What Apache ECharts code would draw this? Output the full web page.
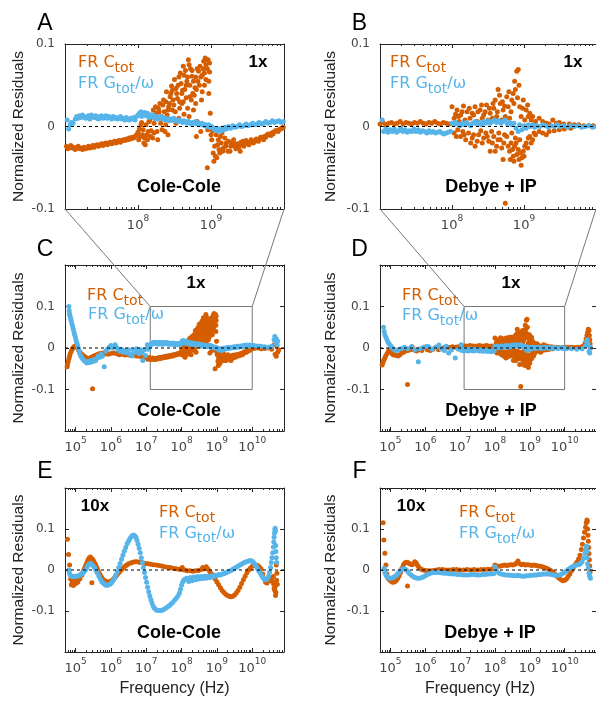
<!DOCTYPE html>
<html><head><meta charset="utf-8">
<script src="https://cdn.jsdelivr.net/npm/echarts@6/dist/echarts.min.js"></script>
<style>html,body{margin:0;padding:0;background:#fff}#c{width:596px;height:702px}</style>
</head><body><div id="c"></div>
<script>
// Each point: [log10(frequency in Hz), normalized residual]
const coleCole1x_Ctot = [
[4.76,-0.045],[4.77,-0.04],[4.79,-0.033],[4.81,-0.026],[4.83,-0.019],[4.85,-0.013],[4.88,-0.007],[4.91,-0.002],[4.94,0.002],[4.97,0.004],[5.0,0.005],[5.03,0.003],[5.06,-0.001],[5.09,-0.006],[5.12,-0.01],[5.16,-0.014],[5.2,-0.017],[5.24,-0.02],[5.28,-0.022],[5.32,-0.024],[5.36,-0.026],[5.4,-0.025],[5.44,-0.022],[5.48,-0.098],[5.5,-0.02],[5.55,-0.018],[5.6,-0.016],[5.66,-0.014],[5.72,-0.013],[5.78,-0.012],[5.85,-0.014],[5.92,-0.015],[6.0,-0.013],[6.08,-0.012],[6.16,-0.014],[6.24,-0.016],[6.32,-0.015],[6.4,-0.017],[6.48,-0.016],[6.56,-0.018],[6.64,-0.018],[6.72,-0.019],[6.8,-0.02],[6.88,-0.021],[6.96,-0.022],
[7.02,-0.024],[7.04,-0.027],[7.06,-0.025],[7.08,-0.023],[7.1,-0.026],[7.12,-0.025],[7.14,-0.028],[7.16,-0.026],[7.18,-0.024],[7.2,-0.027],[7.22,-0.026],[7.24,-0.028],[7.26,-0.025],[7.28,-0.027],[7.3,-0.026],[7.32,-0.024],[7.34,-0.026],[7.36,-0.025],[7.38,-0.023],[7.4,-0.025],[7.42,-0.023],[7.44,-0.022],[7.46,-0.024],[7.48,-0.022],[7.5,-0.021],[7.52,-0.023],[7.54,-0.021],[7.56,-0.02],[7.58,-0.022],[7.6,-0.02],[7.62,-0.019],[7.64,-0.021],[7.66,-0.019],[7.68,-0.018],[7.7,-0.02],[7.72,-0.018],[7.74,-0.017],[7.76,-0.019],[7.78,-0.017],[7.8,-0.016],[7.82,-0.017],[7.84,-0.015],[7.86,-0.016],[7.88,-0.014],[7.9,-0.015],[7.92,-0.013],[7.94,-0.014],[7.96,-0.012],[7.98,-0.01],
[8.0,-0.007],[8.01,-0.016],[8.02,-0.003],[8.03,-0.012],[8.04,0.002],[8.05,0.005],[8.06,-0.01],[8.07,-0.004],[8.08,-0.02],[8.09,-0.014],[8.1,-0.022],[8.11,0.002],[8.12,-0.01],[8.13,-0.016],[8.14,-0.006],[8.15,0.006],[8.16,0.008],[8.17,-0.012],[8.18,-0.005],[8.19,0.014],[8.2,-0.014],[8.21,0.02],[8.22,-0.008],[8.23,0.01],[8.25,0.016],[8.26,-0.006],[8.27,-0.016],[8.28,0.022],[8.3,0.028],[8.31,0.004],[8.32,0.012],[8.33,-0.004],[8.35,0.032],[8.36,0.018],[8.37,-0.006],[8.38,0.002],[8.39,0.042],[8.4,0.014],[8.41,-0.01],[8.42,0.024],[8.44,0.036],[8.45,0.008],[8.46,0.049],[8.47,0.02],[8.48,0.032],[8.5,0.057],[8.51,0.018],[8.52,0.004],[8.53,0.04],[8.55,0.05],[8.56,0.01],[8.57,0.03],[8.58,0.065],[8.6,0.028],[8.61,0.044],[8.62,0.073],[8.63,0.015],[8.64,0.045],[8.66,0.035],[8.67,0.055],[8.68,0.022],[8.69,0.081],[8.7,0.012],[8.71,0.036],[8.72,0.07],[8.74,0.061],[8.75,0.04],[8.76,0.02],[8.78,0.047],[8.79,0.028],[8.8,-0.012],[8.81,0.006],[8.82,0.055],[8.83,0.067],[8.85,0.073],[8.86,-0.006],[8.87,0.032],[8.88,0.062],[8.9,0.079],[8.91,0.05],[8.92,0.083],[8.93,0.057],[8.94,0.081],[8.95,-0.05],[8.955,-0.004],[8.96,0.081],[8.97,0.04],[8.98,0.066],[8.99,0.016],
[8.22,0.004],[8.24,0.024],[8.29,0.018],[8.34,0.026],[8.38,0.03],[8.41,0.02],[8.43,0.028],[8.45,0.04],[8.47,0.044],[8.49,0.026],[8.52,0.046],[8.54,0.034],[8.56,0.06],[8.57,0.022],[8.59,0.052],[8.6,0.04],[8.62,0.03],[8.63,0.062],[8.65,0.068],[8.66,0.05],[8.68,0.06],[8.7,0.075],[8.71,0.05],[8.73,0.032],[8.74,0.068],[8.76,0.055],[8.77,0.038],[8.79,0.06],[8.8,0.045],[8.81,0.07],[8.84,0.05],[8.86,0.06],[8.88,0.042],[8.89,0.07],[8.91,0.065],[8.93,0.075],[8.95,0.07],[8.97,0.055],[8.98,0.077],
[9.0,-0.01],[9.01,-0.016],[9.02,-0.005],[9.03,-0.032],[9.04,-0.042],[9.05,-0.024],[9.06,-0.036],[9.07,-0.01],[9.08,-0.038],[9.09,-0.022],[9.1,-0.016],[9.11,-0.028],[9.12,-0.032],[9.13,-0.012],[9.14,-0.02],[9.15,-0.008],[9.16,-0.03],[9.17,-0.026],[9.19,-0.014],[9.2,-0.024],[9.21,-0.02],[9.23,-0.03],[9.24,-0.018],[9.26,-0.03],[9.27,-0.024],[9.28,-0.022],[9.3,-0.019],[9.31,-0.016],[9.33,-0.024],[9.34,-0.027],[9.36,-0.021],[9.38,-0.025],[9.4,-0.03],[9.41,-0.019],[9.42,-0.022],[9.44,-0.018],[9.45,-0.024],[9.47,-0.021],[9.48,-0.017],[9.5,-0.02],[9.52,-0.022],[9.53,-0.019],[9.55,-0.016],[9.56,-0.017],[9.58,-0.02],[9.6,-0.018],[9.62,-0.015],[9.63,-0.016],[9.65,-0.018],[9.66,-0.015],[9.68,-0.013],[9.7,-0.014],[9.72,-0.016],[9.73,-0.012],[9.75,-0.013],[9.76,-0.011],[9.78,-0.009],[9.8,-0.01],[9.82,-0.011],[9.83,-0.008],[9.85,-0.009],[9.86,-0.007],[9.88,-0.005],[9.9,-0.005],[9.92,-0.006],[9.93,-0.004],[9.95,-0.003],[9.97,-0.002],[9.99,-0.001],
[10.05,-0.001],[10.15,0.0],[10.25,-0.002],[10.35,-0.001],[10.45,0.0],[10.55,-0.003],[10.62,0.008],[10.65,-0.015],[10.68,-0.02],[10.7,0.005],[10.72,-0.01],[10.75,-0.005]
];
const coleCole1x_Gtot = [
[4.81,0.1],[4.82,0.09],[4.83,0.082],[4.84,0.077],[4.86,0.072],[4.87,0.067],[4.89,0.06],[4.91,0.054],[4.93,0.047],[4.95,0.04],[4.97,0.033],[4.99,0.027],[5.01,0.02],[5.03,0.014],[5.05,0.008],[5.07,0.002],[5.09,-0.005],[5.11,-0.012],[5.14,-0.018],[5.17,-0.022],[5.2,-0.026],[5.24,-0.03],[5.28,-0.033],[5.32,-0.036],[5.36,-0.032],[5.4,-0.035],[5.44,-0.03],[5.48,-0.033],[5.52,-0.028],[5.56,-0.031],[5.6,-0.025],[5.64,-0.02],[5.68,-0.022],[5.72,-0.015],[5.76,-0.02],[5.81,-0.045],[5.85,-0.008],[5.9,-0.003],[5.95,0.002],[6.0,0.006],[6.04,0.0],[6.08,0.004],[6.12,0.008],[6.16,0.002],[6.2,-0.004],[6.25,-0.008],[6.3,-0.003],[6.35,-0.01],[6.4,-0.006],[6.45,-0.012],[6.5,-0.004],[6.55,-0.015],[6.6,-0.019],[6.64,-0.006],[6.68,-0.01],[6.72,-0.002],[6.76,-0.008],[6.8,-0.014],[6.84,-0.004],[6.88,-0.01],[6.9,-0.03],[6.94,-0.005],[6.98,-0.018],
[7.03,0.008],[7.05,-0.003],[7.07,0.002],[7.09,0.005],[7.11,0.004],[7.14,0.009],[7.16,0.012],[7.18,0.01],[7.2,0.013],[7.22,0.011],[7.24,0.014],[7.26,0.012],[7.28,0.01],[7.3,0.011],[7.32,0.013],[7.34,0.009],[7.36,0.014],[7.38,0.012],[7.4,0.011],[7.42,0.013],[7.44,0.01],[7.46,0.009],[7.48,0.012],[7.5,0.013],[7.52,0.01],[7.54,0.011],[7.56,0.013],[7.58,0.01],[7.6,0.012],[7.62,0.011],[7.64,0.009],[7.66,0.012],[7.68,0.01],[7.7,0.011],[7.72,0.009],[7.74,0.01],[7.76,0.012],[7.78,0.009],[7.8,0.01],[7.82,0.008],[7.84,0.011],[7.86,0.009],[7.88,0.008],[7.9,0.01],[7.92,0.009],[7.94,0.011],[7.96,0.008],[7.98,0.012],
[8.0,0.014],[8.02,0.016],[8.04,0.018],[8.05,0.012],[8.07,0.015],[8.09,0.017],[8.11,0.013],[8.13,0.016],[8.15,0.011],[8.17,0.014],[8.19,0.012],[8.21,0.014],[8.23,0.01],[8.25,0.012],[8.27,0.009],[8.29,0.011],[8.31,0.012],[8.33,0.009],[8.35,0.011],[8.37,0.008],[8.39,0.01],[8.41,0.009],[8.43,0.007],[8.45,0.009],[8.47,0.008],[8.49,0.01],[8.51,0.007],[8.53,0.008],[8.55,0.006],[8.57,0.008],[8.59,0.007],[8.61,0.005],[8.63,0.007],[8.65,0.006],[8.67,0.004],[8.69,0.006],[8.71,0.005],[8.73,0.003],[8.75,0.005],[8.77,0.004],[8.79,0.006],[8.81,0.003],[8.83,0.004],[8.85,0.002],[8.87,0.004],[8.89,0.003],[8.91,0.001],[8.93,0.002],[8.95,0.0],[8.97,0.002],[8.99,-0.001],
[9.01,0.0],[9.03,-0.002],[9.05,-0.004],[9.07,-0.002],[9.09,-0.005],[9.11,-0.003],[9.13,-0.006],[9.15,-0.002],[9.17,-0.004],[9.19,-0.001],[9.21,-0.003],[9.24,0.0],[9.27,-0.002],[9.3,0.001],[9.33,-0.001],[9.36,0.0],[9.39,0.002],[9.42,0.0],[9.45,0.001],[9.48,0.003],[9.51,0.001],[9.54,0.002],[9.57,0.004],[9.6,0.002],[9.63,0.003],[9.66,0.005],[9.69,0.003],[9.72,0.004],[9.75,0.006],[9.78,0.004],[9.81,0.005],[9.84,0.007],[9.87,0.005],[9.9,0.006],[9.93,0.007],[9.96,0.005],[9.99,0.006],
[10.05,0.006],[10.15,0.005],[10.25,0.004],[10.35,0.003],[10.45,0.002],[10.55,0.004],[10.62,0.02],[10.64,0.028],[10.66,0.012],[10.68,0.022],[10.7,0.008],[10.72,0.016]
];
const debye1x_Ctot = [
[4.76,-0.041],[4.78,-0.036],[4.8,-0.031],[4.83,-0.026],[4.86,-0.02],[4.9,-0.014],[4.94,-0.008],[4.97,-0.005],[5.0,-0.008],[5.04,-0.013],[5.08,-0.016],[5.12,-0.017],[5.17,-0.018],[5.22,-0.019],[5.27,-0.016],[5.32,-0.012],[5.37,-0.01],[5.42,-0.008],[5.49,-0.088],[5.5,-0.006],[5.56,-0.004],[5.62,0.003],[5.68,-0.005],[5.75,-0.007],[5.82,-0.004],[5.9,-0.006],[5.98,0.002],[6.06,-0.004],[6.14,-0.006],[6.22,-0.003],[6.3,0.002],[6.38,-0.004],[6.46,-0.002],[6.54,0.001],[6.62,0.002],[6.7,0.001],[6.78,0.003],[6.86,0.002],[6.94,0.003],
[7.0,0.003],[7.04,0.005],[7.08,0.002],[7.12,0.004],[7.16,0.005],[7.2,0.003],[7.24,0.004],[7.28,0.006],[7.32,0.003],[7.36,0.005],[7.4,0.004],[7.44,0.003],[7.48,0.005],[7.52,0.004],[7.56,0.006],[7.6,0.004],[7.64,0.003],[7.68,0.005],[7.72,0.004],[7.76,0.006],[7.8,0.004],[7.84,0.003],[7.88,0.005],[7.92,0.004],[7.96,0.003],
[8.0,0.024],[8.03,0.01],[8.07,0.02],[8.1,0.006],[8.12,0.014],[8.16,0.025],[8.18,0.008],[8.21,0.018],[8.25,0.01],[8.28,0.016],[8.32,0.024],[8.35,0.006],[8.39,0.02],[8.42,0.01],[8.44,0.014],[8.48,0.026],[8.5,0.008],[8.53,0.016],[8.56,0.01],[8.58,0.022],[8.6,0.032],[8.62,0.012],[8.64,0.045],[8.67,0.028],[8.69,0.008],[8.71,0.02],[8.74,0.012],[8.76,0.036],[8.78,0.024],[8.8,0.01],[8.83,0.032],[8.85,0.04],[8.87,0.055],[8.9,0.067],[8.92,0.069],[8.94,0.024],[8.96,0.012],[8.99,0.032],[9.01,0.008],[9.03,0.02],[9.06,0.012],[9.08,0.016],[9.12,0.012],[9.16,0.006],[9.21,0.01],[9.26,0.006],[9.31,0.004],[9.35,0.003],[9.4,0.008],[9.45,0.004],[9.49,0.005],[9.55,0.003],[9.63,0.003],[9.7,0.002],[9.76,0.002],[9.83,0.001],[9.9,0.001],[9.96,0.001],
[8.05,0.015],[8.09,0.012],[8.14,0.018],[8.2,0.004],[8.24,0.022],[8.3,0.014],[8.36,0.018],[8.41,0.026],[8.46,0.018],[8.52,0.022],[8.57,0.028],[8.63,0.018],[8.66,0.038],[8.7,0.03],[8.73,0.025],[8.79,0.042],[8.82,0.018],[8.86,0.028],[8.88,0.045],[8.91,0.035],[8.93,0.05],[8.98,0.022],[9.05,0.026],[9.1,0.008],
[8.03,-0.008],[8.08,-0.004],[8.12,-0.012],[8.15,-0.006],[8.19,-0.016],[8.23,-0.008],[8.26,-0.02],[8.3,-0.01],[8.32,-0.024],[8.37,-0.01],[8.4,-0.005],[8.44,-0.014],[8.47,-0.008],[8.51,-0.018],[8.53,-0.03],[8.55,-0.006],[8.58,-0.012],[8.62,-0.024],[8.65,-0.008],[8.67,-0.016],[8.71,-0.04],[8.73,-0.01],[8.74,-0.093],[8.76,-0.012],[8.8,-0.03],[8.82,-0.02],[8.83,-0.008],[8.85,-0.036],[8.87,-0.024],[8.88,-0.014],[8.9,-0.034],[8.92,-0.028],[8.94,-0.016],[8.96,-0.047],[8.97,-0.038],[8.99,-0.03],[9.01,-0.024],[9.03,-0.02],[9.06,-0.014],[9.08,-0.012],[9.12,-0.016],[9.16,-0.01],[9.21,-0.006],[9.26,-0.008],[9.31,-0.01],[9.35,-0.006],[9.42,-0.005],[9.49,-0.004],[9.56,-0.003],[9.65,-0.002],
[8.06,-0.012],[8.17,-0.01],[8.28,-0.014],[8.35,-0.018],[8.42,-0.02],[8.49,-0.012],[8.56,-0.02],[8.6,-0.03],[8.64,-0.016],[8.69,-0.026],[8.72,-0.02],[8.78,-0.024],[8.81,-0.04],[8.84,-0.028],[8.86,-0.042],[8.89,-0.02],[8.93,-0.04],[8.95,-0.032],[9.0,-0.036],[9.05,-0.026],[9.1,-0.02],[9.14,-0.008],
[10.05,0.002],[10.12,0.001],[10.2,0.002],[10.28,0.001],[10.36,0.002],[10.44,0.002],[10.52,0.004],[10.57,0.008],[10.6,0.014],[10.62,0.022],[10.64,0.03],[10.66,0.038],[10.68,0.045],[10.7,0.042],[10.71,0.03],[10.72,0.02],[10.73,0.01],[10.74,0.0]
];
const debye1x_Gtot = [
[4.8,0.05],[4.82,0.04],[4.84,0.032],[4.87,0.026],[4.9,0.02],[4.93,0.014],[4.96,0.01],[5.0,0.006],[5.04,0.002],[5.08,-0.002],[5.12,-0.005],[5.17,-0.006],[5.22,-0.004],[5.3,-0.002],[5.4,0.002],[5.5,-0.002],[5.6,0.003],[5.7,-0.004],[5.8,-0.033],[5.85,-0.002],[5.95,0.002],[6.05,0.004],[6.1,0.003],[6.2,-0.003],[6.3,0.002],[6.39,0.007],[6.45,-0.002],[6.55,-0.006],[6.6,0.004],[6.67,-0.012],[6.75,-0.005],[6.86,-0.024],[6.95,-0.003],
[7.03,0.008],[7.05,-0.006],[7.08,-0.003],[7.11,-0.007],[7.14,-0.004],[7.17,-0.006],[7.2,-0.003],[7.23,-0.007],[7.26,-0.005],[7.29,-0.002],[7.32,-0.006],[7.35,-0.004],[7.38,-0.007],[7.41,-0.005],[7.44,-0.006],[7.47,-0.003],[7.5,-0.006],[7.53,-0.004],[7.56,-0.007],[7.59,-0.005],[7.62,-0.006],[7.65,-0.008],[7.68,-0.005],[7.71,-0.007],[7.74,-0.006],[7.77,-0.008],[7.8,-0.007],[7.83,-0.006],[7.86,-0.008],[7.89,-0.009],[7.92,-0.008],[7.95,-0.007],[7.98,-0.006],
[8.0,0.004],[8.02,0.002],[8.05,0.005],[8.08,0.003],[8.11,0.001],[8.14,0.004],[8.17,0.002],[8.2,0.005],[8.23,0.003],[8.26,0.001],[8.29,0.004],[8.32,0.006],[8.35,0.003],[8.38,0.005],[8.41,0.002],[8.44,0.006],[8.47,0.004],[8.5,0.007],[8.53,0.004],[8.56,0.006],[8.59,0.008],[8.62,0.005],[8.65,0.007],[8.68,0.004],[8.71,0.006],[8.74,0.008],[8.77,0.003],[8.8,0.005],[8.83,0.002],[8.86,0.004],[8.89,-0.002],[8.92,-0.006],[8.94,0.002],[8.97,-0.004],[9.0,0.001],[9.03,-0.002],[9.06,0.002],[9.09,0.0],[9.12,0.002],[9.15,-0.001],[9.18,0.001],[9.22,0.0],[9.26,0.002],[9.3,0.001],[9.34,-0.001],[9.38,0.001],[9.42,0.0],[9.46,0.002],[9.5,0.0],[9.55,0.001],[9.6,-0.001],[9.65,0.001],[9.7,0.0],[9.75,0.001],[9.8,-0.001],[9.85,0.0],[9.9,0.001],[9.95,-0.001],[10.0,0.0],
[10.05,-0.002],[10.2,-0.002],[10.35,-0.003],[10.5,-0.002],[10.6,0.005],[10.63,0.015],[10.65,0.02],[10.67,0.01],[10.7,-0.008],[10.72,-0.012],[10.74,0.002]
];
const coleCole10x_Ctot = [
[4.77,0.075],[4.8,0.038],[4.83,0.012],[4.86,-0.022],[4.88,-0.036],[4.91,-0.03],[4.94,-0.038],[4.97,-0.027],[5.0,-0.033],[5.03,-0.024],[5.06,-0.03],[5.09,-0.02],[5.12,-0.022],[5.15,-0.013],[5.18,-0.012],[5.21,-0.005],[5.24,0.002],[5.27,0.008],[5.3,0.014],[5.33,0.02],[5.36,0.026],[5.39,0.03],[5.42,0.032],[5.45,0.028],[5.46,-0.031],[5.48,0.026],[5.51,0.022],[5.54,0.017],[5.57,0.012],[5.6,0.006],[5.63,0.0],[5.66,-0.006],[5.69,-0.011],[5.72,-0.016],[5.75,-0.02],[5.78,-0.023],[5.82,-0.026],[5.86,-0.028],[5.9,-0.029],[5.94,-0.029],[5.98,-0.028],[6.02,-0.026],[6.06,-0.023],[6.1,-0.019],[6.14,-0.015],[6.18,-0.011],[6.22,-0.007],[6.26,-0.003],[6.3,0.001],[6.35,0.005],[6.4,0.009],[6.45,0.012],[6.5,0.015],[6.56,0.017],[6.62,0.019],[6.68,0.02],[6.74,0.02],[6.8,0.019],[6.86,0.018],[6.92,0.017],[6.98,0.016],[7.05,0.015],[7.12,0.014],[7.2,0.013],[7.28,0.012],[7.36,0.011],[7.44,0.01],[7.52,0.008],[7.6,0.007],[7.68,0.006],[7.76,0.004],[7.84,0.003],[7.92,0.002],[8.0,0.001],[8.02,0.006],[8.08,0.0],[8.16,-0.002],[8.24,-0.002],[8.32,-0.003],[8.4,-0.002],[8.48,-0.001],[8.56,0.001],[8.6,0.006],[8.64,0.003],[8.7,0.008],[8.75,0.002],[8.8,-0.004],[8.85,-0.01],[8.9,-0.016],[8.95,-0.022],[9.0,-0.029],[9.05,-0.036],[9.1,-0.043],[9.15,-0.05],[9.2,-0.055],[9.25,-0.059],[9.3,-0.062],[9.35,-0.064],[9.4,-0.065],[9.45,-0.064],[9.5,-0.061],[9.55,-0.056],[9.6,-0.05],[9.65,-0.042],[9.7,-0.033],[9.75,-0.024],[9.8,-0.015],[9.85,-0.007],[9.9,0.0],[9.95,0.005],[10.0,0.009],[10.05,0.011],[10.1,0.012],[10.15,0.011],[10.2,0.008],[10.25,0.003],[10.3,-0.01],[10.34,-0.022],[10.38,-0.03],[10.42,-0.032],[10.46,-0.026],[10.5,-0.018],[10.54,-0.02],[10.57,-0.028],[10.6,-0.016],[10.61,-0.035],[10.62,-0.045],[10.64,-0.05],[10.65,-0.04],[10.66,-0.062],[10.67,-0.055],[10.68,0.012],[10.69,-0.025],[10.7,-0.008],[10.71,-0.035]
];
const coleCole10x_Gtot = [
[4.81,0.0],[4.83,-0.008],[4.85,-0.012],[4.88,-0.015],[4.92,-0.016],[4.96,-0.016],[5.0,-0.015],[5.04,-0.015],[5.08,-0.014],[5.12,-0.012],[5.16,-0.01],[5.2,-0.008],[5.24,-0.004],[5.28,0.0],[5.32,0.006],[5.35,0.011],[5.38,0.014],[5.42,0.016],[5.46,0.014],[5.5,0.01],[5.54,0.005],[5.58,-0.002],[5.62,-0.008],[5.66,-0.015],[5.7,-0.022],[5.74,-0.028],[5.78,-0.032],[5.82,-0.035],[5.86,-0.037],[5.9,-0.037],[5.94,-0.036],[5.98,-0.034],[6.02,-0.031],[6.06,-0.026],[6.1,-0.02],[6.14,-0.012],[6.18,-0.004],[6.22,0.006],[6.26,0.016],[6.3,0.026],[6.34,0.036],[6.38,0.046],[6.42,0.055],[6.46,0.064],[6.5,0.071],[6.54,0.077],[6.58,0.082],[6.62,0.085],[6.65,0.085],[6.68,0.083],[6.71,0.079],[6.74,0.072],[6.77,0.063],[6.8,0.053],[6.83,0.042],[6.86,0.03],[6.89,0.018],[6.92,0.006],[6.95,-0.006],[6.98,-0.018],[7.01,-0.03],[7.04,-0.042],[7.07,-0.053],[7.1,-0.063],[7.13,-0.072],[7.16,-0.08],[7.19,-0.087],[7.22,-0.092],[7.26,-0.096],[7.3,-0.098],[7.35,-0.099],[7.4,-0.099],[7.45,-0.098],[7.5,-0.096],[7.55,-0.093],[7.6,-0.09],[7.65,-0.087],[7.7,-0.083],[7.75,-0.079],[7.8,-0.074],[7.85,-0.069],[7.9,-0.063],[7.94,-0.056],[7.97,-0.047],[8.0,-0.037],[8.03,-0.03],[8.06,-0.025],[8.1,-0.022],[8.15,-0.02],[8.2,-0.028],[8.25,-0.018],[8.3,-0.026],[8.35,-0.017],[8.4,-0.024],[8.45,-0.016],[8.5,-0.022],[8.55,-0.016],[8.6,-0.021],[8.65,-0.015],[8.7,-0.02],[8.75,-0.015],[8.8,-0.019],[8.85,-0.014],[8.9,-0.017],[8.95,-0.013],[9.0,-0.014],[9.05,-0.011],[9.1,-0.012],[9.15,-0.01],[9.2,-0.009],[9.25,-0.007],[9.3,-0.005],[9.35,-0.003],[9.4,-0.001],[9.45,0.002],[9.5,0.004],[9.55,0.007],[9.6,0.009],[9.65,0.012],[9.7,0.014],[9.75,0.017],[9.8,0.019],[9.85,0.021],[9.9,0.022],[9.94,0.023],[9.98,0.022],[10.02,0.02],[10.06,0.016],[10.1,0.011],[10.14,0.005],[10.18,-0.001],[10.22,-0.007],[10.26,-0.013],[10.3,-0.018],[10.34,-0.022],[10.38,-0.024],[10.42,-0.022],[10.46,-0.016],[10.49,-0.006],[10.52,0.006],[10.54,0.018],[10.56,0.03],[10.58,0.042],[10.6,0.056],[10.61,0.068],[10.62,0.08],[10.63,0.09],[10.64,0.098],[10.65,0.102],[10.66,0.095],[10.665,0.06],[10.67,0.045],[10.68,0.03],[10.69,0.018]
];
const debye10x_Ctot = [
[4.79,0.115],[4.81,0.073],[4.84,0.041],[4.87,0.012],[4.9,-0.01],[4.93,-0.02],[4.97,-0.024],[5.01,-0.027],[5.05,-0.029],[5.09,-0.03],[5.13,-0.028],[5.17,-0.025],[5.21,-0.02],[5.25,-0.014],[5.29,-0.006],[5.33,0.004],[5.37,0.012],[5.41,0.017],[5.45,0.019],[5.49,-0.039],[5.5,0.018],[5.54,0.016],[5.58,0.014],[5.62,0.013],[5.66,0.015],[5.7,0.02],[5.74,0.017],[5.78,0.011],[5.82,0.006],[5.88,0.002],[5.94,0.0],[6.0,-0.001],[6.08,-0.002],[6.16,-0.002],[6.24,-0.001],[6.32,0.0],[6.4,0.001],[6.5,0.001],[6.6,0.0],[6.7,0.0],[6.8,0.001],[6.9,0.001],[7.0,0.0],[7.1,0.0],[7.2,0.001],[7.3,0.0],[7.4,0.001],[7.5,0.0],[7.6,0.001],[7.7,0.001],[7.8,0.002],[7.9,0.002],[7.96,0.004],[8.0,0.012],[8.04,0.01],[8.1,0.009],[8.16,0.01],[8.22,0.011],[8.28,0.012],[8.34,0.011],[8.4,0.012],[8.46,0.013],[8.52,0.012],[8.58,0.014],[8.62,0.017],[8.66,0.022],[8.7,0.016],[8.76,0.013],[8.82,0.014],[8.88,0.012],[8.94,0.013],[9.0,0.012],[9.06,0.011],[9.12,0.012],[9.18,0.011],[9.24,0.01],[9.3,0.009],[9.36,0.008],[9.42,0.006],[9.48,0.004],[9.54,0.002],[9.6,-0.001],[9.66,-0.005],[9.72,-0.01],[9.78,-0.015],[9.84,-0.02],[9.9,-0.024],[9.95,-0.026],[10.0,-0.025],[10.05,-0.022],[10.1,-0.016],[10.15,-0.01],[10.2,-0.002],[10.25,0.006],[10.3,0.013],[10.35,0.019],[10.4,0.027],[10.44,0.036],[10.48,0.05],[10.51,0.063],[10.54,0.078],[10.57,0.092],[10.6,0.104],[10.62,0.115],[10.64,0.122],[10.65,0.118],[10.66,0.1],[10.67,0.085],[10.68,0.07],[10.69,0.055],[10.7,0.04],[10.71,0.025],[10.72,0.01],[10.73,-0.005]
];
const debye10x_Gtot = [
[4.82,0.004],[4.84,-0.006],[4.87,-0.012],[4.9,-0.016],[4.94,-0.019],[4.98,-0.02],[5.02,-0.02],[5.06,-0.019],[5.1,-0.017],[5.14,-0.015],[5.18,-0.012],[5.22,-0.008],[5.26,-0.004],[5.3,0.0],[5.34,0.002],[5.38,0.003],[5.42,0.002],[5.46,0.0],[5.5,-0.004],[5.55,-0.009],[5.6,-0.013],[5.65,-0.016],[5.7,-0.018],[5.76,-0.02],[5.82,-0.02],[5.88,-0.019],[5.94,-0.017],[6.0,-0.014],[6.06,-0.011],[6.12,-0.009],[6.2,-0.007],[6.28,-0.006],[6.36,-0.006],[6.44,-0.007],[6.52,-0.008],[6.6,-0.008],[6.68,-0.009],[6.76,-0.01],[6.84,-0.01],[6.92,-0.011],[7.0,-0.011],[7.08,-0.012],[7.16,-0.012],[7.24,-0.012],[7.32,-0.011],[7.4,-0.011],[7.48,-0.012],[7.56,-0.012],[7.64,-0.011],[7.72,-0.011],[7.8,-0.01],[7.88,-0.01],[7.96,-0.009],[8.0,0.008],[8.02,0.004],[8.06,-0.004],[8.12,-0.008],[8.18,-0.01],[8.24,-0.011],[8.3,-0.012],[8.36,-0.012],[8.42,-0.013],[8.48,-0.013],[8.54,-0.014],[8.6,-0.014],[8.66,-0.013],[8.72,-0.014],[8.78,-0.015],[8.84,-0.015],[8.9,-0.014],[8.96,-0.014],[9.02,-0.013],[9.08,-0.013],[9.14,-0.012],[9.2,-0.012],[9.26,-0.011],[9.32,-0.011],[9.38,-0.01],[9.44,-0.01],[9.5,-0.01],[9.56,-0.01],[9.62,-0.011],[9.68,-0.012],[9.74,-0.013],[9.8,-0.013],[9.86,-0.012],[9.92,-0.01],[9.98,-0.007],[10.04,-0.003],[10.1,0.001],[10.16,0.005],[10.22,0.008],[10.28,0.01],[10.34,0.012],[10.4,0.013],[10.45,0.015],[10.5,0.02],[10.54,0.028],[10.58,0.04],[10.61,0.052],[10.63,0.058],[10.64,0.045],[10.65,0.03],[10.66,0.015],[10.68,0.005],[10.7,-0.008],[10.72,-0.015],[10.74,-0.02]
];
const panelLetters = ['A','B','C','D','E','F'];
const modelNames = ['Cole-Cole','Debye + IP','Cole-Cole','Debye + IP','Cole-Cole','Debye + IP'];
const scaleTags = ['1x','1x','1x','1x','10x','10x'];
const xExpRange = [[7,10],[7,10],[4.7,10.9],[4.7,10.9],[4.7,10.9],[4.7,10.9]];
const yRange = [[-0.1,0.1],[-0.1,0.1],[-0.2,0.2],[-0.2,0.2],[-0.2,0.2],[-0.2,0.2]];
const zoomBoxX = [1.3e7, 1e10];
const zoomBoxY = [-0.1, 0.1];
const ORANGE = '#D55E00', BLUE = '#56B4E9';

const dataC = [coleCole1x_Ctot, debye1x_Ctot, coleCole1x_Ctot, debye1x_Ctot, coleCole10x_Ctot, debye10x_Ctot];
const dataG = [coleCole1x_Gtot, debye1x_Gtot, coleCole1x_Gtot, debye1x_Gtot, coleCole10x_Gtot, debye10x_Gtot];

// layout
const grids = [
  {left:65, top:44, width:219, height:165},
  {left:380, top:44, width:219, height:165},
  {left:65, top:265, width:219, height:166},
  {left:380, top:265, width:219, height:166},
  {left:65, top:488, width:219, height:164},
  {left:380, top:488, width:219, height:164}
];
const layout = [
  {letter:[45,23.5], tag:[258,62], model:[179,187], legC:[78,57], legG:[78,78]},
  {letter:[359.5,23.5], tag:[573,62], model:[491,187], legC:[390,57], legG:[390,78]},
  {letter:[45,249.5], tag:[196,283.5], model:[179,411], legC:[87,290], legG:[88,309]},
  {letter:[359.5,249.5], tag:[511,283.5], model:[491,411], legC:[402,290], legG:[402,310]},
  {letter:[45,471.5], tag:[95,506], model:[179,633.5], legC:[159,507], legG:[159,527.5]},
  {letter:[359.5,471.5], tag:[411,506], model:[490,633.5], legC:[459,507], legG:[459,528]}
];

const toXY = arr => arr.map(p => [Math.pow(10, p[0]), p[1]]);
const AXC = '#262626', LBL = '#444';
const xLabelFmt = v => { const e = Math.log10(v); const r = Math.round(e); if (Math.abs(e - r) > 1e-6) return ''; return '{b|10}{e|' + r + '}'; };
const yLabelFmt = v => { if (Math.abs(v) > 0.15) return ''; if (Math.abs(v) < 1e-9) return '0'; return v.toFixed(1); };

const xAxis = [], yAxis = [], series = [];
for (let i = 0; i < 6; i++) {
  const xmin = Math.pow(10, xExpRange[i][0]), xmax = Math.pow(10, xExpRange[i][1]);
  const base = {type:'log', logBase:10, gridIndex:i, min:xmin, max:xmax, splitLine:{show:false},
    axisLine:{onZero:false, lineStyle:{color:AXC, width:1}}, axisTick:{inside:true, length:4, lineStyle:{color:AXC}},
    minorTick:{show:true, splitNumber:9, length:2, lineStyle:{color:AXC}}};
  const bottom = Object.assign({}, base, {position:'bottom',
    axisLabel:{margin:5, showMinLabel:false, showMaxLabel:false, formatter:xLabelFmt,
      rich:{b:{fontFamily:'DejaVu Sans', fontSize:13, color:LBL, padding:[5,0,0,0], verticalAlign:'bottom'},
            e:{fontFamily:'DejaVu Sans', fontSize:9, color:LBL, verticalAlign:'top'}}}});
  if (i >= 4) {
    bottom.name = 'Frequency (Hz)'; bottom.nameLocation = 'middle'; bottom.nameGap = 29;
    bottom.nameTextStyle = {fontFamily:'Liberation Sans', fontSize:16, color:'#222', padding: i === 5 ? [0,16,0,0] : 0};
  }
  xAxis.push(bottom);
  yAxis.push({type:'value', gridIndex:i, min:yRange[i][0], max:yRange[i][1], interval:0.1, position:'left',
    splitLine:{show:false}, axisLine:{show:true, onZero:false, lineStyle:{color:AXC}}, axisTick:{inside:true, length:4, lineStyle:{color:AXC}},
    axisLabel:{margin:10, formatter:yLabelFmt, fontFamily:'DejaVu Sans', fontSize:12, color:LBL},
    name:'Normalized Residuals', nameLocation:'middle', nameGap: (i % 2 === 0) ? 38 : 41,
    nameTextStyle:{fontFamily:'Liberation Sans', fontSize:15.5, color:'#222'}});
}
for (let i = 0; i < 6; i++) {
  const xmin = Math.pow(10, xExpRange[i][0]), xmax = Math.pow(10, xExpRange[i][1]);
  xAxis.push({type:'log', logBase:10, gridIndex:i, min:xmin, max:xmax, position:'top', splitLine:{show:false},
    axisLine:{onZero:false, lineStyle:{color:AXC}}, axisTick:{inside:true, length:4, lineStyle:{color:AXC}},
    minorTick:{show:true, splitNumber:9, length:2, lineStyle:{color:AXC}}, axisLabel:{show:false}});
  yAxis.push({type:'value', gridIndex:i, min:yRange[i][0], max:yRange[i][1], interval:0.1, position:'right',
    splitLine:{show:false}, axisLine:{show:true, onZero:false, lineStyle:{color:AXC}}, axisTick:{inside:true, length:4, lineStyle:{color:AXC}},
    axisLabel:{show:false}});
}
for (let i = 0; i < 6; i++) {
  const xmin = Math.pow(10, xExpRange[i][0]), xmax = Math.pow(10, xExpRange[i][1]);
  series.push({type:'scatter', xAxisIndex:i, yAxisIndex:i, data:toXY(dataC[i]), symbolSize:5,
    itemStyle:{color:ORANGE, opacity:1}, silent:true, z:2, clip:true});
  series.push({type:'scatter', xAxisIndex:i, yAxisIndex:i, data:toXY(dataG[i]), symbolSize:5,
    itemStyle:{color:BLUE, opacity:1}, silent:true, z:3, clip:true});
  const zl = {type:'line', xAxisIndex:i, yAxisIndex:i, data:[[xmin,0],[xmax,0]], symbol:'none', silent:true, z:4,
    lineStyle:{color:'#000', width:1, type:[3,3]}};
  if (i === 2 || i === 3) {
    zl.markArea = {silent:true, itemStyle:{color:'rgba(0,0,0,0)', borderColor:'#777', borderWidth:1},
      data:[[{coord:[zoomBoxX[0], zoomBoxY[1]]},{coord:[zoomBoxX[1], zoomBoxY[0]]}]]};
  }
  series.push(zl);
}

const chart = echarts.init(document.getElementById('c'));
chart.setOption({animation:false, backgroundColor:'#fff', grid:grids, xAxis, yAxis, series});

const g = [];
for (let i = 0; i < 6; i++) {
  const L = layout[i];
  g.push({type:'text', x:L.letter[0], y:L.letter[1], style:{text:panelLetters[i], fontFamily:'Liberation Sans', fontSize:23, fill:'#000', align:'center', verticalAlign:'middle'}});
  g.push({type:'text', x:L.tag[0], y:L.tag[1], style:{text:scaleTags[i], fontFamily:'Liberation Sans', fontWeight:'bold', fontSize:17, fill:'#000', align:'center', verticalAlign:'middle'}});
  g.push({type:'text', x:L.model[0], y:L.model[1], style:{text:modelNames[i], fontFamily:'Liberation Sans', fontWeight:'bold', fontSize:18, fill:'#000', align:'center', verticalAlign:'middle'}});
  const richFor = col => ({a:{fontFamily:'DejaVu Sans', fontSize:16, fill:col, verticalAlign:'top'},
                           s:{fontFamily:'DejaVu Sans', fontSize:14, fill:col, verticalAlign:'top', padding:[6,0,0,0]}});
  g.push({type:'text', x:L.legC[0], y:L.legC[1]-2, style:{text:'{a|FR C}{s|tot}', rich:richFor(ORANGE), align:'left', verticalAlign:'top'}});
  g.push({type:'text', x:L.legG[0], y:L.legG[1]-2, style:{text:'{a|FR G}{s|tot}{a|/ω}', rich:richFor(BLUE), align:'left', verticalAlign:'top'}});
}
const px = (i, x, y) => chart.convertToPixel({xAxisIndex:i, yAxisIndex:i}, [x, y]);
[[0,2],[1,3]].forEach(([top, bot]) => {
  const a1 = px(top, Math.pow(10, xExpRange[top][0]), yRange[top][0]);
  const b1 = px(bot, zoomBoxX[0], zoomBoxY[1]);
  const a2 = px(top, Math.pow(10, xExpRange[top][1]), yRange[top][0]);
  const b2 = px(bot, zoomBoxX[1], zoomBoxY[1]);
  g.push({type:'line', shape:{x1:a1[0], y1:a1[1], x2:b1[0], y2:b1[1]}, style:{stroke:'#777', lineWidth:1}, z:1});
  g.push({type:'line', shape:{x1:a2[0], y1:a2[1], x2:b2[0], y2:b2[1]}, style:{stroke:'#777', lineWidth:1}, z:1});
});
chart.setOption({graphic:{elements:g}});
</script>
</body></html>
